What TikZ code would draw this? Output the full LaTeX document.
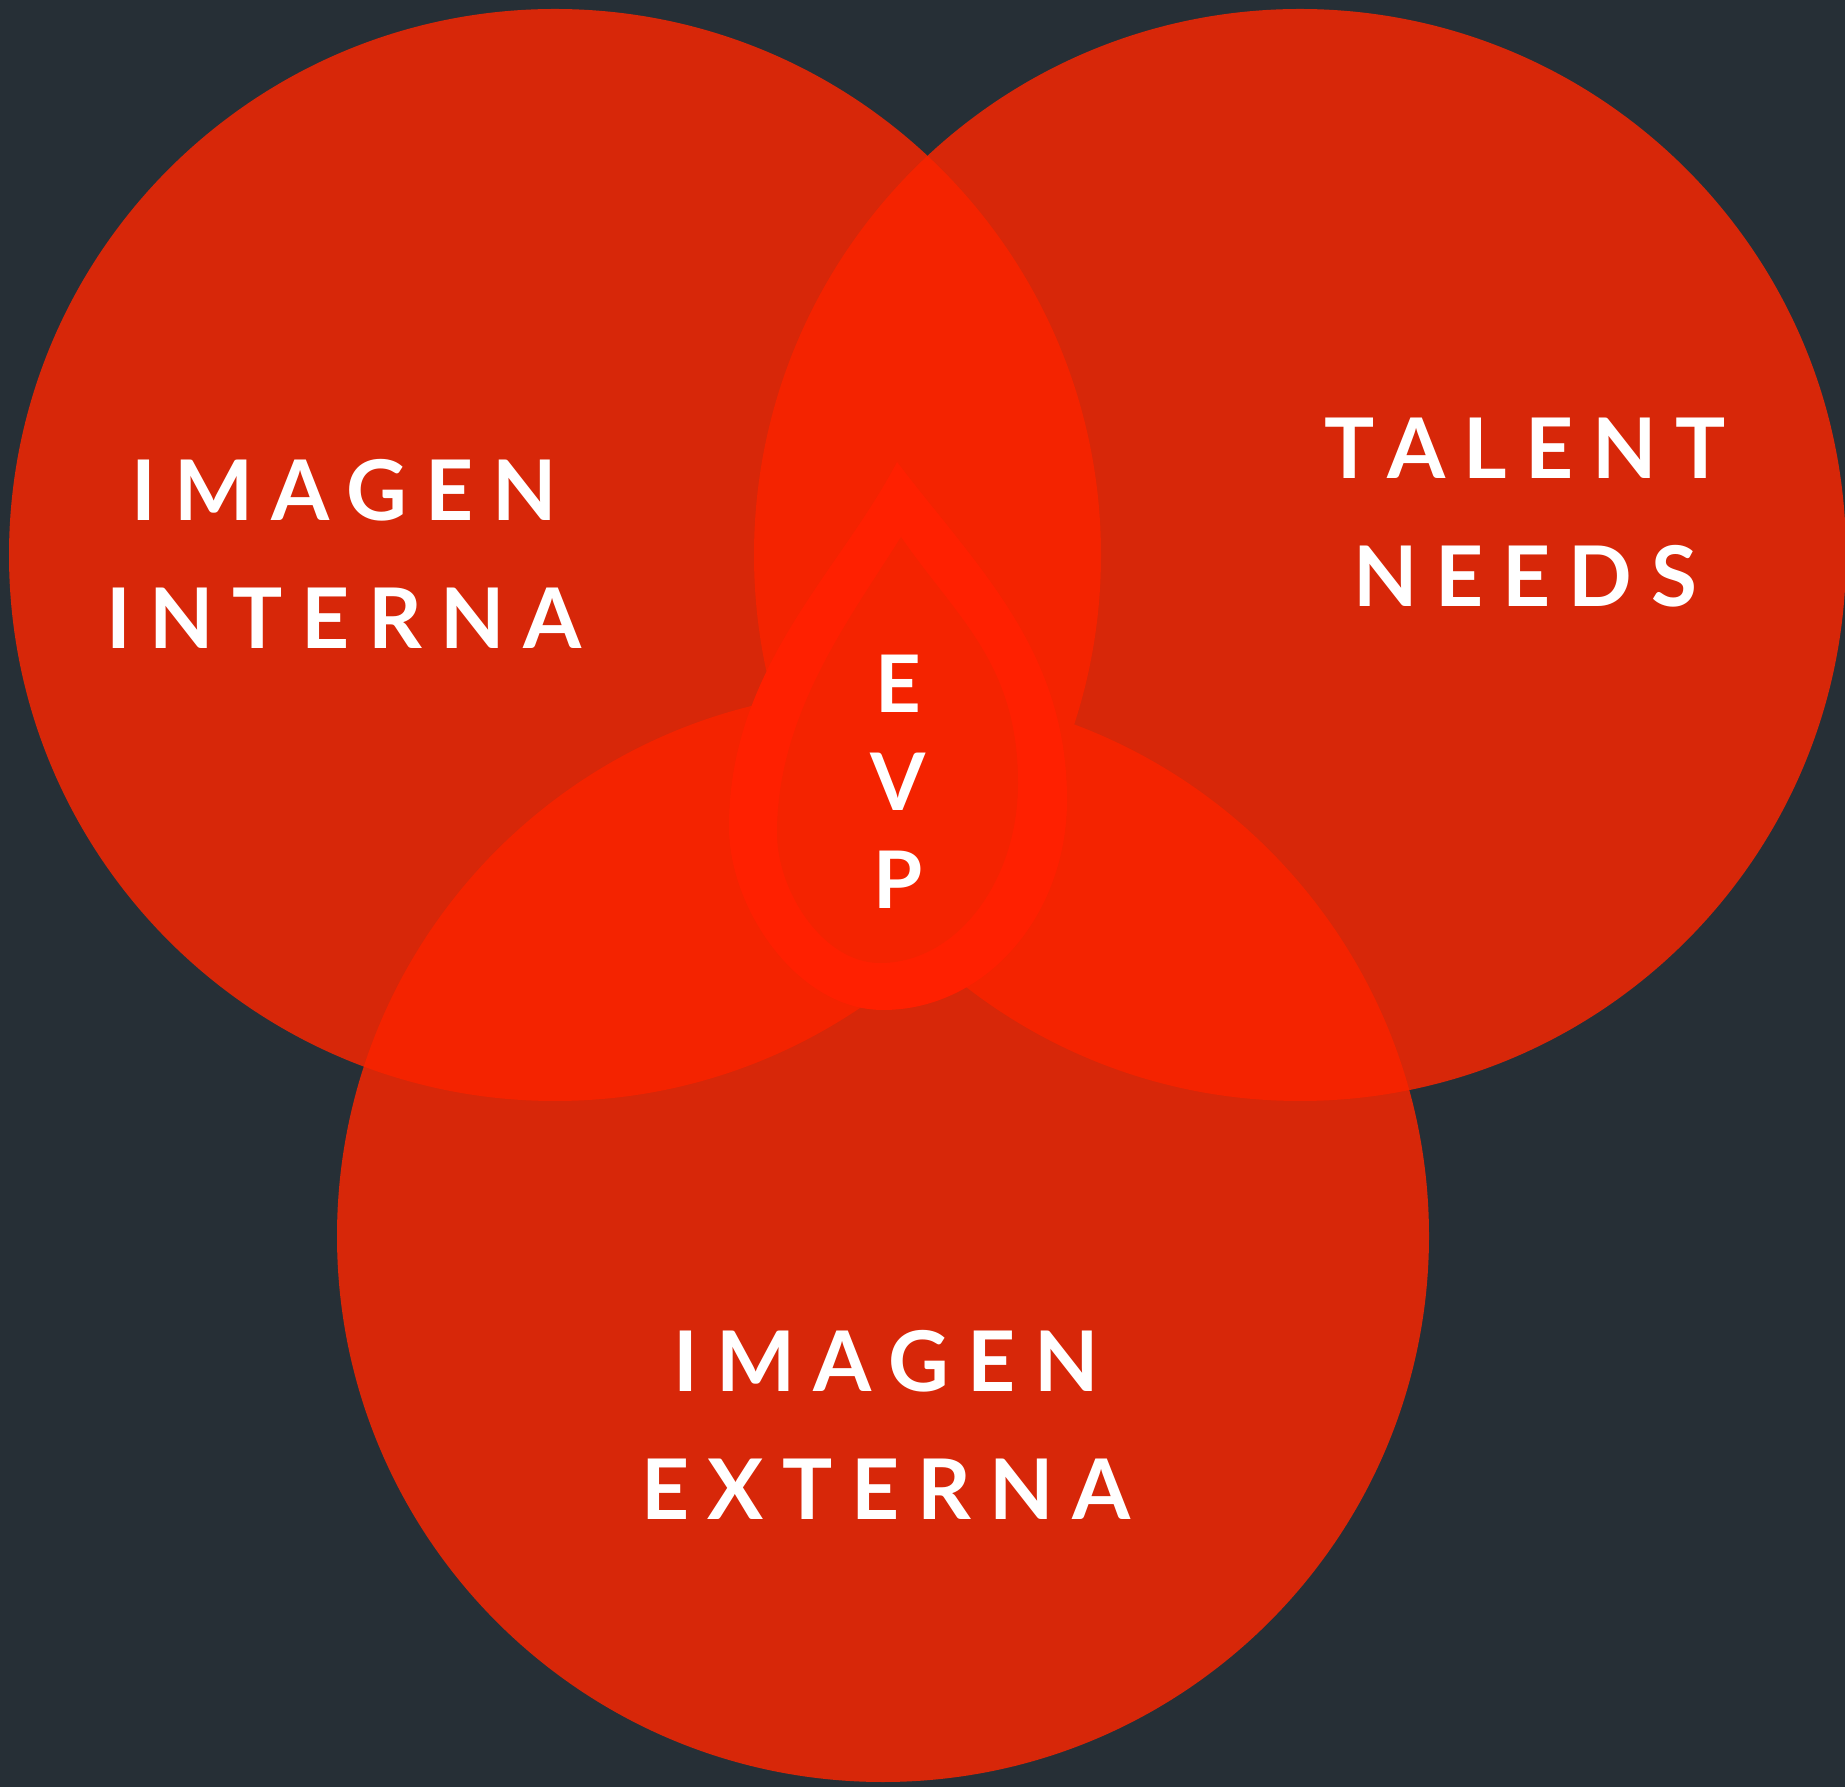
\documentclass[tikz,border=0pt]{standalone}
\usepackage{fontspec}
\newfontfamily\labelfont[LetterSpace=22]{Lato}

\definecolor{slate}{HTML}{262F36}
\definecolor{venn}{HTML}{D72709}
\definecolor{lens}{HTML}{F42300}
\definecolor{drop}{HTML}{FF2000}

\begin{document}
\begin{tikzpicture}[x=0.01cm, y=0.01cm]

	%% The background
	\useasboundingbox (0,0) rectangle (1845,1787);
	\fill[slate] (0,0) rectangle (1845,1787);

	%% The three circles
	\fill[venn] ( 555,1232) circle (546);
	\fill[venn] (1300,1232) circle (546);
	\fill[venn] ( 883, 551) circle (546);

	%% The overlaps
	\begin{scope}
		\clip ( 555,1232) circle (546);
		\fill[lens] (1300,1232) circle (546);
		\fill[lens] ( 883, 551) circle (546);
	\end{scope}
	\begin{scope}
		\clip (1300,1232) circle (546);
		\fill[lens] ( 883, 551) circle (546);
	\end{scope}

	%% The outer drop
	\fill[drop] (897,1325) .. controls (977,1220) and (1067,1137) .. (1067,987)
		.. controls (1067,871) and (985,777) .. (883,777)
		.. controls (798,777) and (729,878) .. (729,960)
		.. controls (729,1120) and (840,1215) .. cycle;

	%% The inner drop
	\fill[lens] (901,1250) .. controls (956,1170) and (1018,1124) .. (1018,1004)
		.. controls (1018,905) and (956,824) .. (880,824)
		.. controls (823,824) and (777,896) .. (777,954)
		.. controls (777,1074) and (851,1170) .. cycle;

	%% The labels
	\begin{scope}[every node/.style={text=white, align=center,
			font=\labelfont\bfseries\fontsize{23.8}{36.4}\selectfont}]
		\node at ( 344,1233) (interna) {IMAGEN\\INTERNA};
		\node at (1525,1274) (talent)  {TALENT\\NEEDS};
		\node at ( 886, 362) (externa) {IMAGEN\\EXTERNA};
	\end{scope}

	%% The letters down the drop
	\begin{scope}[every node/.style={text=white, align=center,
			font=\labelfont\bfseries\fontsize{22.6}{27.9}\selectfont}]
		\node at ( 898,1005) (evp) {E\\V\\P};
	\end{scope}

\end{tikzpicture}
\end{document}
